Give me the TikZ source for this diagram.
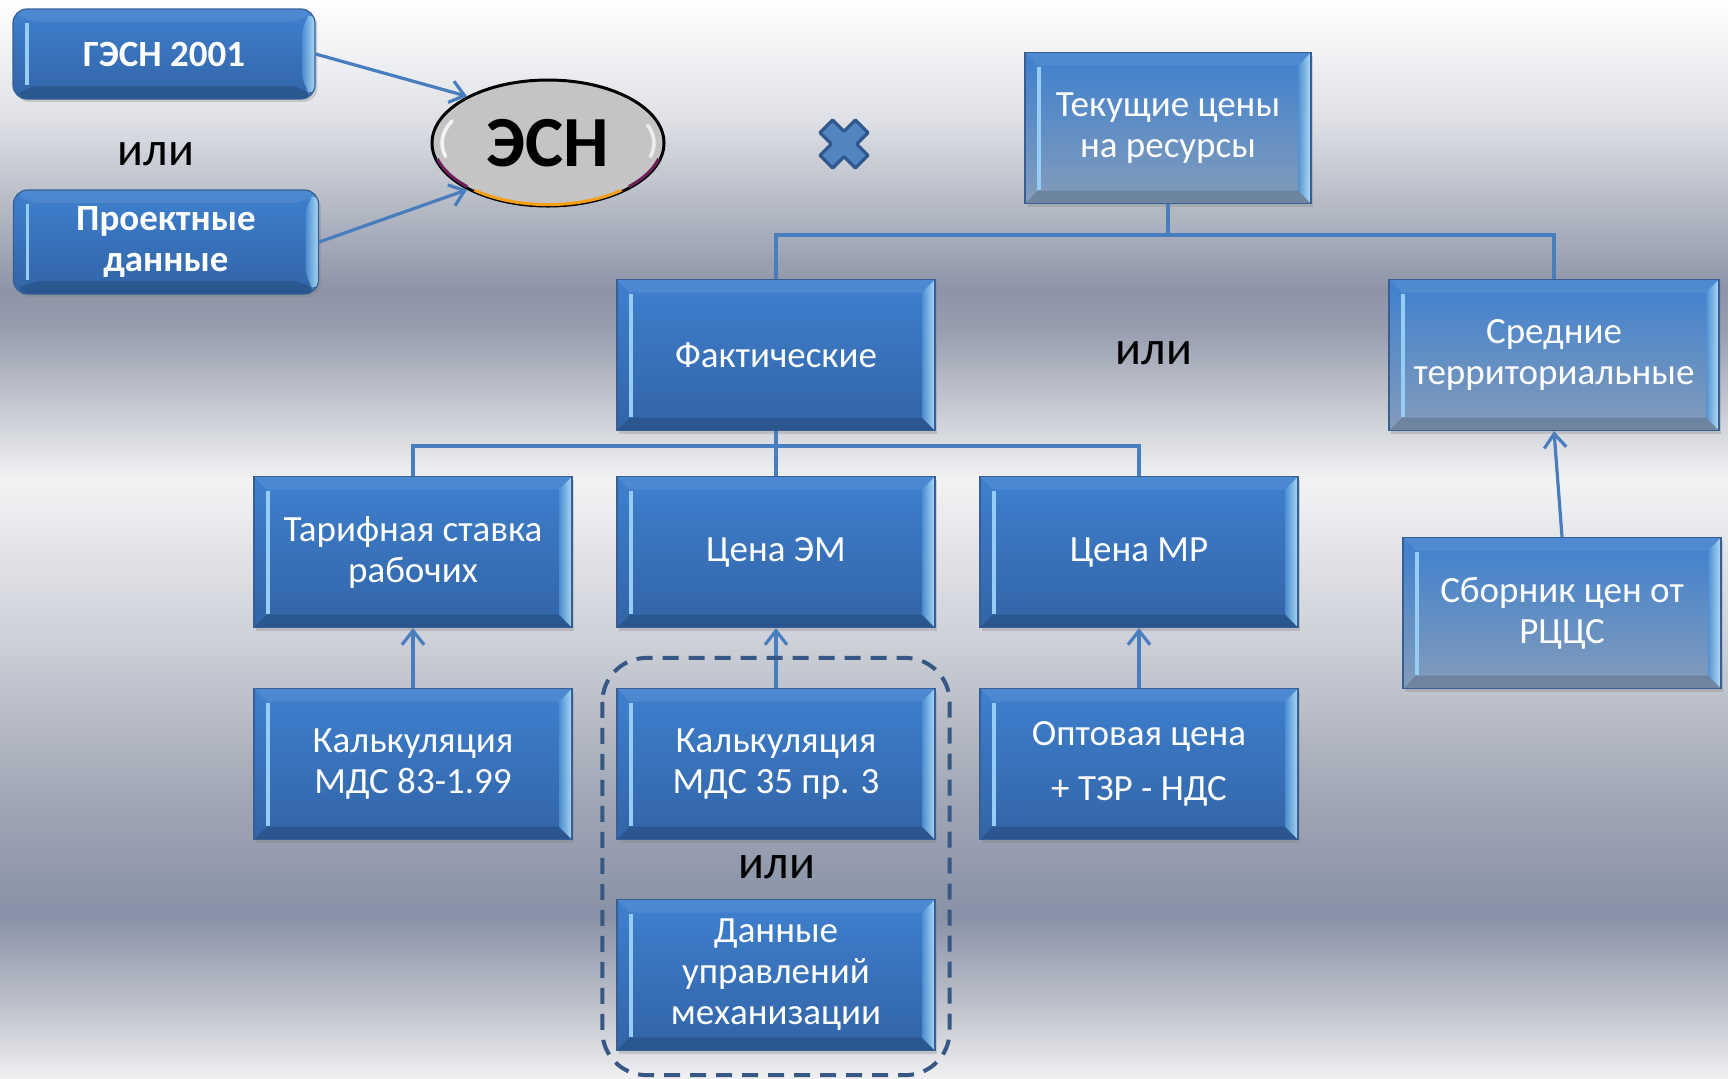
\documentclass[tikz,border=0pt]{standalone}
\usepackage{fontspec}
\setmainfont{Carlito}
\usepackage{tikz}
\usetikzlibrary{arrows,arrows.meta,shapes.geometric,shadows}

\definecolor{sinij}{RGB}{62,128,206}
\definecolor{sinijniz}{RGB}{50,100,166}
\definecolor{seryjniz}{RGB}{132,156,186}
\definecolor{kraj}{RGB}{55,95,150}
\definecolor{liniya}{RGB}{72,125,190}
\definecolor{punktir}{RGB}{55,88,132}
\definecolor{grankraj}{RGB}{190,235,255}
\definecolor{granvnutr}{RGB}{80,145,212}
\definecolor{svet}{RGB}{150,205,245}
\definecolor{krestfon}{RGB}{82,132,192}
\definecolor{krestkraj}{RGB}{48,88,140}
\definecolor{oranzh}{RGB}{245,160,20}
\definecolor{lilov}{RGB}{110,30,90}
\definecolor{esnfon}{RGB}{196,196,196}
\definecolor{fon0}{RGB}{255,255,255}
\definecolor{fon1}{RGB}{222,224,229}
\definecolor{fon2}{RGB}{140,148,166}
\definecolor{fon3}{RGB}{152,158,174}
\definecolor{fon4}{RGB}{243,243,245}
\definecolor{fon5}{RGB}{205,208,216}
\definecolor{fon6}{RGB}{162,168,182}
\definecolor{fon7}{RGB}{136,145,166}
\definecolor{fon8}{RGB}{200,202,210}
\definecolor{fon9}{RGB}{240,240,242}

\newcommand\blokfont{\fontsize{18.5}{20.5}\selectfont}
\newcommand\ilifont{\fontsize{24}{28}\selectfont}
\newcommand\esnfont{\fontsize{36}{40}\selectfont\bfseries}

\tikzset{
  grani/.style={path picture={
    \fill[white,opacity=.08] (path picture bounding box.north west) -- (path picture bounding box.north east)
      -- ([shift={(-6.5pt,-6.5pt)}]path picture bounding box.north east) -- ([shift={(6.5pt,-6.5pt)}]path picture bounding box.north west) -- cycle;
    \fill[black,opacity=.14] (path picture bounding box.south west) -- (path picture bounding box.south east)
      -- ([shift={(-6.5pt,6.5pt)}]path picture bounding box.south east) -- ([shift={(6.5pt,6.5pt)}]path picture bounding box.south west) -- cycle;
    \shade[left color=granvnutr,right color=grankraj,opacity=.85] (path picture bounding box.north east) -- (path picture bounding box.south east)
      -- ([shift={(-6.5pt,6.5pt)}]path picture bounding box.south east) -- ([shift={(-6.5pt,-6.5pt)}]path picture bounding box.north east) -- cycle;
    \draw[svet,line width=1.6pt] ([shift={(7pt,-7pt)}]path picture bounding box.north west) -- ([shift={(7pt,7pt)}]path picture bounding box.south west);
  }},
  blok/.style={rectangle, draw=kraj, line width=.6pt, top color=sinij, bottom color=sinijniz,
    text=white, align=center, minimum width=159pt, minimum height=75.5pt, inner sep=2pt,
    font=\blokfont, grani, drop shadow={shadow xshift=1.2pt,shadow yshift=-1.5pt,opacity=.3}},
  blokfon/.style={blok, bottom color=seryjniz},
  kruglyj/.style={blok, rounded corners=7pt, font=\blokfont\bfseries},
  svyaz/.style={draw=liniya, line width=1.6pt},
  strelka/.style={svyaz, -{Straight Barb[length=7pt,width=11pt]}},
  ili/.style={font=\ilifont, text=black},
  ramka/.style={draw=punktir, line width=2pt, dash pattern=on 8pt off 5pt, rounded corners=22pt}
}

\begin{document}
\begin{tikzpicture}[x=0.5pt,y=-0.5pt]
% fon
\shade[top color=fon0,bottom color=fon1] (0,0) rectangle (1728,121);
\shade[top color=fon1,bottom color=fon2] (0,120) rectangle (1728,291);
\shade[top color=fon2,bottom color=fon3] (0,290) rectangle (1728,331);
\shade[top color=fon3,bottom color=fon4] (0,330) rectangle (1728,481);
\shade[top color=fon4,bottom color=fon5] (0,480) rectangle (1728,641);
\shade[top color=fon5,bottom color=fon6] (0,640) rectangle (1728,791);
\shade[top color=fon6,bottom color=fon7] (0,790) rectangle (1728,916);
\shade[top color=fon7,bottom color=fon8] (0,915) rectangle (1728,1021);
\shade[top color=fon8,bottom color=fon9] (0,1020) rectangle (1728,1078);
\path[use as bounding box] (0,0) rectangle (1728,1078);

\node[kruglyj, minimum width=151pt, minimum height=45pt] (gesn) at (164,54) {ГЭСН 2001};
\node[ili] (ili1) at (156,154) {или};
\node[kruglyj, minimum width=152.5pt, minimum height=52pt] (proekt) at (166,242) {Проектные\\данные};
\node[ellipse, draw=black, line width=1.5pt, fill=esnfon,
  minimum width=116pt, minimum height=63pt, inner sep=0pt, font=\esnfont] (esn) at (548,143) {ЭСН};
\draw[lilov,line width=1.5pt] ([shift={(195:57.2pt and 30.8pt)}]esn.center) arc[start angle=195,end angle=225,x radius=57.2pt,y radius=30.8pt];
\draw[lilov,line width=1.5pt] ([shift={(315:57.2pt and 30.8pt)}]esn.center) arc[start angle=315,end angle=345,x radius=57.2pt,y radius=30.8pt];
\draw[oranzh,line width=1.5pt] ([shift={(230:57.2pt and 30.8pt)}]esn.center) arc[start angle=230,end angle=310,x radius=57.2pt,y radius=30.8pt];
\draw[white,line width=1.8pt,opacity=.8,line cap=round] ([shift={(155:53pt and 26pt)}]esn.center) arc[start angle=155,end angle=195,x radius=53pt,y radius=26pt];
\draw[white,line width=1.8pt,opacity=.7,line cap=round] ([shift={(-15:53pt and 26pt)}]esn.center) arc[start angle=-15,end angle=20,x radius=53pt,y radius=26pt];

\draw[strelka] (gesn.east) -- (esn.150);
\draw[strelka] (proekt.east) -- (esn.210);

\begin{scope}[shift={(844,144)},rotate=45]
  \filldraw[fill=krestfon,draw=krestkraj,line width=1.6pt,line join=round]
    (-9,-25) -- (9,-25) -- (9,-9) -- (25,-9) -- (25,9) -- (9,9) -- (9,25) -- (-9,25) -- (-9,9) -- (-25,9) -- (-25,-9) -- (-9,-9) -- cycle;
\end{scope}

\node[blokfon, minimum width=143pt] (tekush) at (1168,128) {Текущие цены\\на ресурсы};
\node[blok] (fakt) at (776,355) {Фактические};
\node[ili] (ili2) at (1154,353) {или};
\node[blokfon, minimum width=165pt] (sredn) at (1554,355) {Средние\\территориальные};

\node[blok] (tarif) at (413,552) {Тарифная ставка\\рабочих};
\node[blok] (cenaem) at (776,552) {Цена ЭМ};
\node[blok] (cenamr) at (1139,552) {Цена МР};
\node[blokfon] (sbornik) at (1562,613) {Сборник цен от\\РЦЦС};

\node[blok] (kalk1) at (413,764) {Калькуляция\\МДС 83-1.99};
\node[blok] (kalk2) at (776,764) {Калькуляция\\МДС 35 пр. 3};
\node[blok] (opt) at (1139,764) {Оптовая цена\\[7pt]+ ТЗР - НДС};
\node[ili] (ili3) at (777,867) {или};
\node[blok] (dannye) at (776,975) {Данные\\управлений\\механизации};

\coordinate (shina1) at (1162,235);
\draw[svyaz] (tekush.south) -- (tekush.south |- shina1);
\draw[svyaz] (fakt.north) |- (shina1) -| (sredn.north);

\coordinate (shina2) at (777,446);
\draw[svyaz] (fakt.south) -- (fakt.south |- shina2);
\draw[svyaz] (tarif.north) |- (shina2) -| (cenamr.north);
\draw[svyaz] (cenaem.north) -- (cenaem.north |- shina2);

\draw[strelka] (kalk1.north) -- (tarif.south);
\draw[strelka] (kalk2.north) -- (cenaem.south);
\draw[strelka] (opt.north) -- (cenamr.south);
\draw[strelka] (sbornik.north) -- (sredn.south);

\draw[ramka] ([shift={(-7pt,15pt)}]kalk2.north west) rectangle ([shift={(7pt,-12pt)}]dannye.south east);
\end{tikzpicture}
\end{document}
